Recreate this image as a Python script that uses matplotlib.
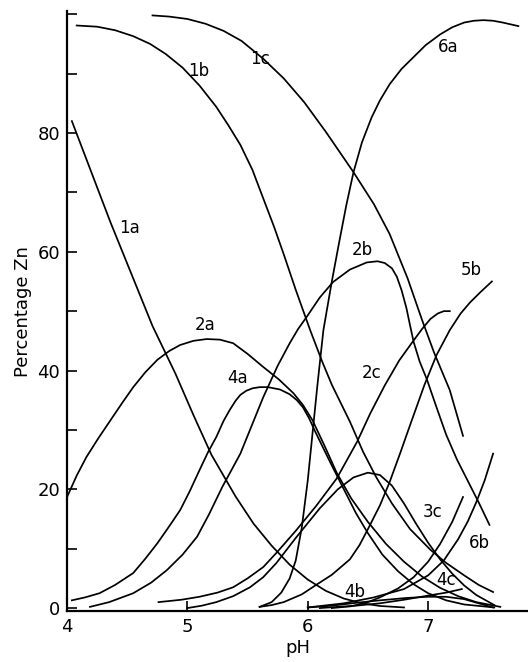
import matplotlib
matplotlib.use("Agg")
import matplotlib.pyplot as plt
from matplotlib.ticker import MultipleLocator

# ---- data: pH values and percentage Zn ----
ph_1a = [4.04, 4.2, 4.36, 4.55, 4.71, 4.9, 5.05, 5.2, 5.4, 5.55, 5.7, 5.85, 6.0, 6.15, 6.3, 6.45, 6.6, 6.8]
zn_1a = [82, 73.5, 65, 55.5, 47.5, 39.5, 32.5, 25.8, 18.8, 14.2, 10.5, 7.3, 4.8, 2.9, 1.6, 0.8, 0.35, 0.1]

ph_1b = [4.08, 4.25, 4.4, 4.55, 4.69, 4.82, 4.96, 5.1, 5.24, 5.34, 5.44, 5.54, 5.63, 5.72, 5.8, 5.9,
         6.02, 6.12, 6.2, 6.35, 6.46, 6.57, 6.7, 6.85, 7.02, 7.15, 7.3, 7.42, 7.54]
zn_1b = [98.1, 97.9, 97.3, 96.3, 95, 93.3, 91, 88, 84.4, 81.3, 78, 73.8, 69, 64.2, 59.6, 53.6,
         46.8, 41.5, 37.6, 31.4, 26.3, 22, 17.6, 13.3, 9.8, 7.6, 5.5, 3.9, 2.7]

ph_1c = [4.71, 4.85, 5.0, 5.15, 5.3, 5.45, 5.63, 5.8, 5.97, 6.15, 6.38, 6.55, 6.68, 6.83, 6.95,
         7.05, 7.18, 7.29]
zn_1c = [99.8, 99.6, 99.2, 98.4, 97.2, 95.5, 92.5, 89.2, 85.2, 80.2, 73.4, 68, 63, 55.5, 48.5,
         43, 36.7, 29]

ph_2a = [4.0, 4.08, 4.16, 4.26, 4.36, 4.46, 4.55, 4.65, 4.75, 4.85, 4.94, 5.05, 5.16, 5.27, 5.38,
         5.5, 5.63, 5.76, 5.88, 5.96, 6.04, 6.14, 6.24, 6.36, 6.5, 6.65, 6.8, 6.95, 7.1, 7.25,
         7.4, 7.6]
zn_2a = [18.7, 22.3, 25.4, 28.6, 31.6, 34.6, 37.2, 39.7, 41.8, 43.3, 44.3, 45, 45.3, 45.2, 44.6,
         42.8, 40.6, 38.5, 36.2, 34.2, 31.6, 27.3, 22.8, 18.5, 14.5, 10.8, 7.8, 5.3, 3.4, 2,
         1, 0.2]

ph_2b = [4.19, 4.35, 4.55, 4.7, 4.83, 4.96, 5.08, 5.18, 5.29, 5.44, 5.63, 5.75, 5.85, 5.92, 5.99,
         6.1, 6.21, 6.35, 6.49, 6.58, 6.64, 6.7, 6.74, 6.78, 6.82, 6.85, 6.88, 6.93, 6.99, 7.07,
         7.15, 7.24, 7.32, 7.42, 7.51]
zn_2b = [0.2, 1.0, 2.5, 4.3, 6.4, 9.0, 12, 15.8, 20.4, 26, 35.5, 40.8, 44.6, 47, 49,
         52.3, 54.9, 57, 58.2, 58.4, 58.1, 57.2, 55.8, 53.5, 50.5, 47.6, 44.8, 41.5, 38.5, 33.8,
         29.2, 25, 21.8, 17.8, 14]

ph_2c = [4.76, 4.95, 5.1, 5.25, 5.38, 5.5, 5.63, 5.74, 5.9, 6.07, 6.24, 6.41, 6.52, 6.64, 6.76,
         6.87, 6.95, 7.02, 7.08, 7.13, 7.18]
zn_2c = [1.0, 1.4, 1.9, 2.6, 3.5, 5.0, 6.9, 9.3, 13, 17.2, 21.8, 28, 32.8, 37.5, 41.7,
         44.8, 47, 48.7, 49.6, 50, 50]

ph_3x = [5.0, 5.12, 5.24, 5.38, 5.52, 5.63, 5.74, 5.9, 6.1, 6.25, 6.38, 6.5, 6.6, 6.7, 6.8,
         6.9, 7.0, 7.1, 7.2, 7.3, 7.4, 7.55]
zn_3x = [0.0, 0.4, 1.0, 2.0, 3.5, 5.2, 7.6, 11.8, 16.8, 20, 22, 22.8, 22.4, 20.6, 17.6,
         14.2, 11, 8.2, 5.8, 3.8, 2.2, 0.5]

ph_3c = [6.2, 6.36, 6.5, 6.6, 6.75, 6.88, 7.0, 7.1, 7.2, 7.29]
zn_3c = [0.0, 0.3, 1.0, 1.8, 3.3, 5.2, 7.8, 10.8, 14.5, 18.7]

ph_4a = [4.04, 4.15, 4.27, 4.4, 4.55, 4.65, 4.75, 4.85, 4.94, 5.02, 5.1, 5.17, 5.24, 5.3, 5.35,
         5.4, 5.44, 5.49, 5.54, 5.6, 5.67, 5.77, 5.85, 5.91, 5.96, 6.01, 6.06, 6.12, 6.2, 6.29,
         6.4, 6.5, 6.62, 6.75, 6.88, 7.0, 7.15, 7.3, 7.55]
zn_4a = [1.3, 1.8, 2.5, 3.9, 5.9, 8.3, 10.9, 13.8, 16.5, 19.7, 23.2, 26.2, 28.8, 31.5, 33.3,
         34.9, 35.9, 36.6, 37, 37.2, 37.2, 36.8, 36, 35, 33.8, 32, 29.8, 27.3, 24, 20.4,
         16, 12.6, 9, 6.2, 4, 2.5, 1.3, 0.6, 0.1]

ph_4b = [6.0, 6.2, 6.41, 6.6, 6.82, 7.0, 7.15, 7.3, 7.42, 7.54]
zn_4b = [0.1, 0.4, 0.9, 1.3, 1.7, 1.9, 1.9, 1.5, 0.8, 0.1]

ph_4c = [6.1, 6.4, 6.6, 6.8, 7.0, 7.15, 7.28]
zn_4c = [0.0, 0.4, 0.8, 1.4, 2.1, 2.6, 3.2]

ph_5b = [5.6, 5.7, 5.8, 5.95, 6.07, 6.2, 6.35, 6.43, 6.5, 6.6, 6.68, 6.77, 6.85, 6.97, 7.07,
         7.18, 7.27, 7.35, 7.44, 7.53]
zn_5b = [0.2, 0.5, 1.0, 2.3, 3.9, 5.6, 8.2, 10.6, 13.3, 17.3, 21.2, 26.2, 30.8, 37.6, 42.6,
         46.8, 49.6, 51.5, 53.3, 55]

ph_6a = [5.6, 5.7, 5.78, 5.85, 5.9, 5.95, 6.0, 6.04, 6.08, 6.13, 6.2, 6.26, 6.32, 6.38, 6.45,
         6.53, 6.6, 6.68, 6.78, 6.88, 6.98, 7.1, 7.2, 7.3, 7.38, 7.46, 7.54, 7.62, 7.75]
zn_6a = [0.2, 1.0, 2.6, 5.0, 8.0, 13.5, 21.5, 29.5, 37.5, 46.8, 55, 61.5, 67.8, 73.4, 78.4,
         82.6, 85.5, 88.2, 90.8, 92.8, 94.8, 96.6, 97.8, 98.6, 98.9, 99, 98.9, 98.6, 98]

ph_6b = [6.0, 6.3, 6.55, 6.8, 7.0, 7.13, 7.25, 7.33, 7.4, 7.47, 7.54]
zn_6b = [0.1, 0.8, 1.8, 3.2, 5.5, 8, 11.6, 14.6, 17.8, 21.5, 26]

curves = [
    (ph_1a, zn_1a), (ph_1b, zn_1b), (ph_1c, zn_1c),
    (ph_2a, zn_2a), (ph_2b, zn_2b), (ph_2c, zn_2c),
    (ph_3x, zn_3x), (ph_3c, zn_3c),
    (ph_4a, zn_4a), (ph_4b, zn_4b), (ph_4c, zn_4c),
    (ph_5b, zn_5b), (ph_6a, zn_6a), (ph_6b, zn_6b),
]

# curve labels and where they sit
label_text = ["1a", "1b", "1c", "2a", "2b", "2c", "3c", "4a", "4b", "4c", "5b", "6a", "6b"]
label_ph = [4.52, 5.09, 5.6, 5.15, 6.45, 6.53, 7.04, 5.42, 6.39, 7.15, 7.36, 7.17, 7.43]
label_zn = [64, 90.5, 92.4, 47.6, 60.3, 39.6, 16.2, 38.7, 2.7, 4.7, 57, 94.5, 10.9]

plt.rcParams["font.family"] = ["DejaVu Sans"]

fig = plt.figure(figsize=(5.28, 6.62), dpi=100)
ax = fig.add_axes([0.127, 0.077, 0.873, 0.906])

for ph, zn in curves:
    ax.plot(ph, zn, color="black", linewidth=1.25, solid_joinstyle="round")

for txt, x, y in zip(label_text, label_ph, label_zn):
    ax.text(x, y, txt, fontsize=12, ha="center", va="center", color="black")

ax.set_xlim(4, 7.83)
ax.set_ylim(-0.5, 100.5)
ax.set_xticks([4, 5, 6, 7])
ax.set_yticks([0, 20, 40, 60, 80])
ax.yaxis.set_minor_locator(MultipleLocator(10))
ax.tick_params(axis="both", which="major", direction="in", length=7, width=1.2,
               labelsize=13, pad=5)
ax.tick_params(axis="y", which="minor", direction="in", length=7, width=1.2)
ax.spines["top"].set_visible(False)
ax.spines["right"].set_visible(False)
ax.spines["left"].set_linewidth(1.6)
ax.spines["bottom"].set_linewidth(1.6)

ax.set_xlabel("pH", fontsize=13, labelpad=2)
ax.set_ylabel("Percentage Zn", fontsize=13, labelpad=4)

fig.savefig("out.png", dpi=100, facecolor="white")
